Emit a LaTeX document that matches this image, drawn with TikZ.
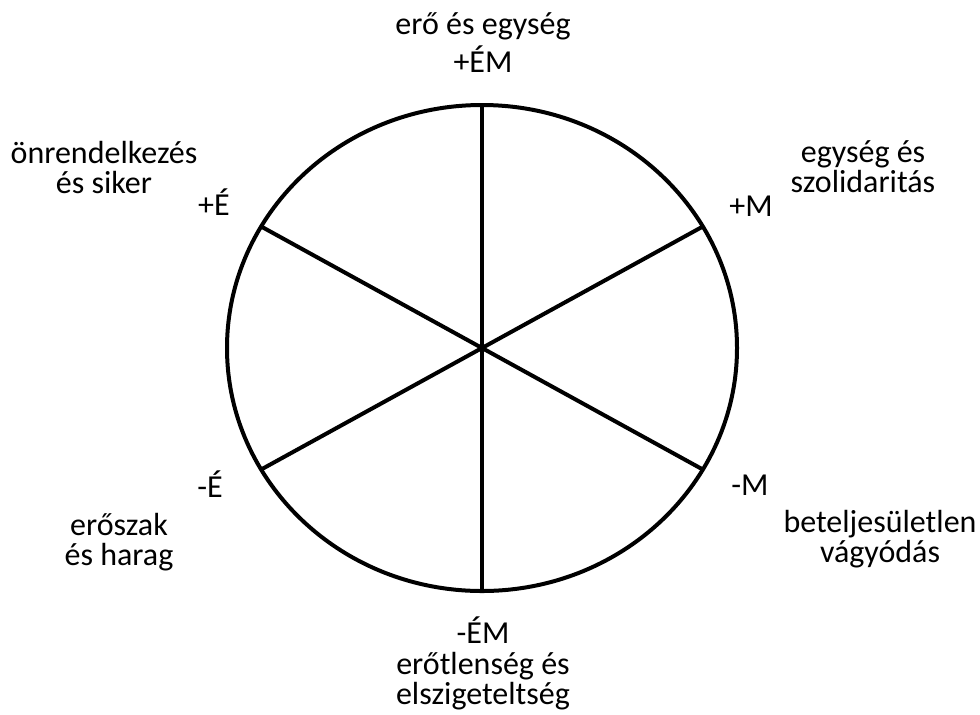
\documentclass[tikz,border=0pt]{standalone}
\usepackage{fontspec}
\setmainfont{Carlito}
\tikzset{lbl/.style={anchor=base, inner sep=0pt, align=center,
    font=\fontsize{16}{15}\selectfont}}
\begin{document}
\begin{tikzpicture}[x=0.5pt,y=-0.5pt]
\useasboundingbox (0,0) rectangle (980,714);

\coordinate (c) at (482,348);

% circle and spokes
\draw[line width=2pt] (c) ellipse [x radius=255, y radius=243];
\foreach \a in {-90,-30,30,90,150,210} {
    \coordinate (p\a) at ([shift={(\a:255 and 243)}]c);
    \draw[line width=2pt] (c) -- (p\a);
};

% codes
\node[lbl] (em) at (483,72) {+ÉM};
\node[lbl] (pe) at (214,215) {+É};
\node[lbl] (pm) at (751,216) {+M};
\node[lbl] (ne) at (210,497) {-É};
\node[lbl] (nm) at (750,495) {-M};
\node[lbl] (nem) at (483,643) {-ÉM};

% descriptions (base = last line)
\node[lbl] (ero) at (483,34) {erő és egység};
\node[lbl] (onr) at (104,193) {önrendelkezés\\és siker};
\node[lbl] (egy) at (863,192) {egység és\\szolidaritás};
\node[lbl] (erosz) at (119,565) {erőszak\\és harag};
\node[lbl] (bet) at (880,562) {beteljesületlen\\vágyódás};
\node[lbl] (erot) at (483,704) {erőtlenség és\\elszigeteltség};

\end{tikzpicture}
\end{document}
